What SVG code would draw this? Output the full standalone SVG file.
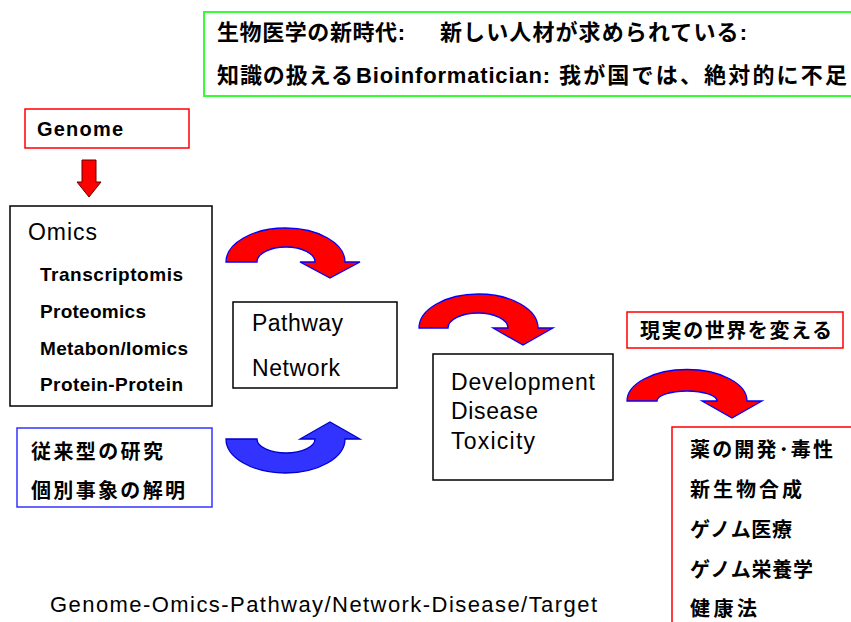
<svg xmlns="http://www.w3.org/2000/svg" width="851" height="622" viewBox="0 0 851 622">
<style>
.jp{font-family:"Liberation Sans","Noto Sans CJK JP",sans-serif;font-weight:bold;fill:#000}
.en{font-family:"Liberation Sans",Arial,sans-serif;fill:#000}
.enb{font-family:"Liberation Sans",Arial,sans-serif;font-weight:bold;fill:#000}
.box{fill:#fff;stroke:#000;stroke-width:1.5}
.rbox{fill:#fff;stroke:#ff0000;stroke-width:1.5}
.bbox{fill:#fff;stroke:#3333ff;stroke-width:1.5}
.gbox{fill:#fff;stroke:#33ff33;stroke-width:2}
.rarr{fill:#ff0000;stroke:#0000ff;stroke-width:1.3;stroke-linejoin:miter}
.barr{fill:#3333ff;stroke:#0000cc;stroke-width:1.3}
</style>
<rect width="851" height="622" fill="#fff"/>

<g id="title">
<rect class="gbox" x="204" y="12" width="660" height="84"/>
<text class="jp" x="217" y="40" font-size="22" textLength="188">生物医学の新時代:</text>
<text class="jp" x="440" y="40" font-size="22" textLength="307">新しい人材が求められている:</text>
<text class="jp" x="217" y="83" font-size="22" textLength="136">知識の扱える</text>
<text class="jp" x="356" y="83" font-size="22" textLength="194">Bioinformatician:</text>
<text class="jp" x="559" y="83" font-size="22" textLength="288">我が国では、絶対的に不足</text>
</g>

<g id="genome">
<rect class="rbox" x="25" y="109" width="164" height="39"/>
<text class="enb" x="37" y="136" font-size="20" textLength="86">Genome</text>
</g>

<g id="omics">
<rect class="box" x="10" y="206" width="202" height="200"/>
<text class="en" x="28" y="240" font-size="23" textLength="69">Omics</text>
<text class="enb" x="40" y="281" font-size="19" textLength="143">Transcriptomis</text>
<text class="enb" x="40" y="318" font-size="19" textLength="106">Proteomics</text>
<text class="enb" x="40" y="355" font-size="19" textLength="148">Metabon/Iomics</text>
<text class="enb" x="40" y="391" font-size="19" textLength="143">Protein-Protein</text>
</g>

<g id="pathway">
<rect class="box" x="233" y="302" width="164" height="86"/>
<text class="en" x="252" y="331" font-size="23" textLength="91">Pathway</text>
<text class="en" x="252" y="376" font-size="23" textLength="88">Network</text>
</g>

<g id="disease">
<rect class="box" x="433" y="354" width="180" height="126"/>
<text class="en" x="451" y="390" font-size="23" textLength="144">Development</text>
<text class="en" x="451" y="419" font-size="23" textLength="87">Disease</text>
<text class="en" x="451" y="449" font-size="23" textLength="84">Toxicity</text>
</g>

<g id="real-world">
<rect class="rbox" x="627" y="312" width="216" height="36"/>
<text class="jp" x="640" y="338" font-size="20" textLength="192">現実の世界を変える</text>
</g>

<g id="applications">
<rect class="rbox" x="672" y="427" width="200" height="220"/>
<text class="jp" x="690" y="457" font-size="20" textLength="143">薬の開発･毒性</text>
<text class="jp" x="690" y="497" font-size="20" textLength="112">新生物合成</text>
<text class="jp" x="690" y="537" font-size="20" textLength="102">ゲノム医療</text>
<text class="jp" x="690" y="577" font-size="20" textLength="123">ゲノム栄養学</text>
<text class="jp" x="690" y="616" font-size="20" textLength="67">健康法</text>
</g>

<g id="traditional">
<rect class="bbox" x="17" y="428" width="195" height="79"/>
<text class="jp" x="31" y="459" font-size="20" textLength="132">従来型の研究</text>
<text class="jp" x="31" y="498" font-size="20" textLength="154">個別事象の解明</text>
</g>

<g id="caption">
<text class="en" x="50" y="612" font-size="22" textLength="547">Genome-Omics-Pathway/Network-Disease/Target</text>
</g>

<g id="connectors">
<path d="M82,160 L96,160 L96,182 L101,182 L89,197 L77,182 L82,182 Z" fill="#ff0000" stroke="#660000" stroke-width="1"/>
<path class="rarr" d="M226,262 A59.5,34 0 0 1 345,262 L360,262 L330,278 L300,262 L315,262 A29,15 0 0 0 257,262 Z"/>
<path class="barr" d="M226,439 A59.5,34 0 0 0 345,439 L360,439 L330,422 L300,439 L315,439 A29,14 0 0 1 257,439 Z"/>
<path class="rarr" d="M419,328 A59.5,34 0 0 1 538,328 L553,328 L523,345 L493,328 L508,328 A30,15 0 0 0 448,328 Z"/>
<path class="rarr" d="M627,401 A60,31.5 0 0 1 747,401 L762,401 L732,418 L702,401 L717,401 A30,10 0 0 0 657,401 Z"/>
</g>
</svg>
